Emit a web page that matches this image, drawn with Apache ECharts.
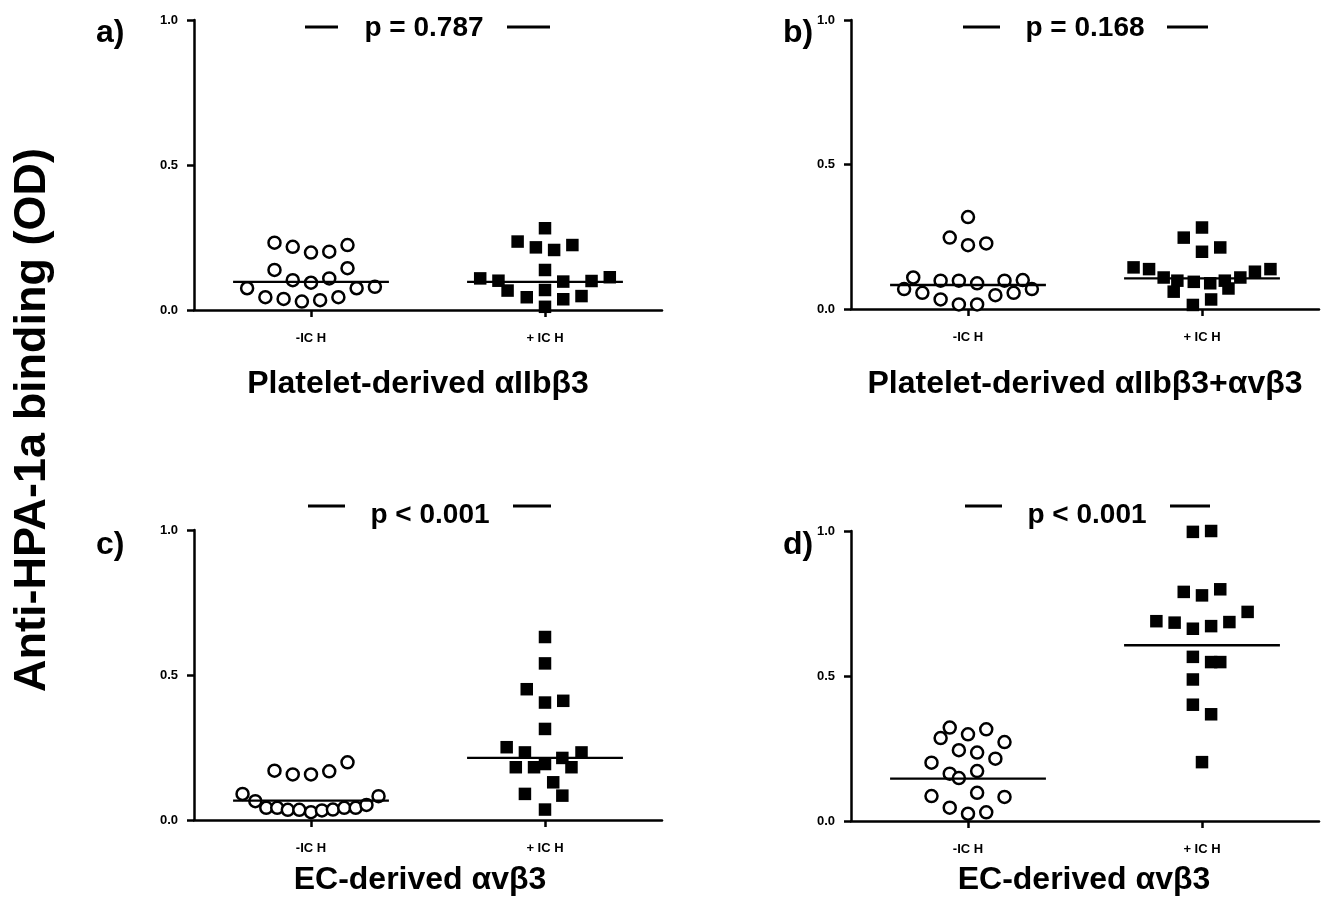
<!DOCTYPE html>
<html><head><meta charset="utf-8">
<script src="https://cdn.jsdelivr.net/npm/echarts@6/dist/echarts.min.js"></script>
<style>html,body{margin:0;padding:0;background:#fff}#c{width:1336px;height:910px}</style>
</head><body><div id="c"></div>
<script>
const categories = ['-IC H', '+ IC H'];
const yTickValues = [0, 0.5, 1.0];
const panelLabels = ['a)', 'b)', 'c)', 'd)'];
const panelTitles = ['Platelet-derived \u03b1IIb\u03b23', 'Platelet-derived \u03b1IIb\u03b23+\u03b1v\u03b23', 'EC-derived \u03b1v\u03b23', 'EC-derived \u03b1v\u03b23'];
const pValues = ['p = 0.787', 'p = 0.168', 'p < 0.001', 'p < 0.001'];
const yAxisTitle = 'Anti-HPA-1a binding (OD)';

// Panel a
const aNegValues = [0.232,0.218,0.198,0.201,0.224,0.138,0.144,0.103,0.094,0.109,0.075,0.075,0.080,0.044,0.038,0.029,0.034,0.044];
const aNegJitter = [-2,-1,0,1,2,-2,2,-1,0,1,-3.5,2.5,3.5,-2.5,-1.5,-0.5,0.5,1.5];
const aPosValues = [0.282,0.236,0.216,0.207,0.224,0.138,0.109,0.101,0.067,0.044,0.069,0.098,0.037,0.048,0.100,0.113,0.011];
const aPosJitter = [0,-1.5,-0.5,0.5,1.5,0,-3.55,-2.55,-2.05,-1,0,1,1,2,2.55,3.55,0];
const aMedians = [0.097, 0.097];
// Panel b
const bNegValues = [0.318,0.247,0.221,0.227,0.109,0.098,0.098,0.089,0.098,0.100,0.069,0.056,0.069,0.056,0.048,0.033,0.016,0.016];
const bNegJitter = [0,-1,0,1,-3,-1.5,-0.5,0.5,2,3,-3.5,-2.5,3.5,2.5,1.5,-1.5,-0.5,0.5];
const bPosValues = [0.282,0.247,0.198,0.213,0.144,0.138,0.109,0.098,0.094,0.089,0.098,0.109,0.129,0.138,0.060,0.071,0.014,0.033];
const bPosJitter = [0,-1,0,1,-3.75,-2.9,-2.1,-1.35,-0.45,0.45,1.25,2.1,2.9,3.75,-1.55,1.45,-0.5,0.5];
const bMedians = [0.083, 0.106];
// Panel c
const cNegValues = [0.170,0.157,0.157,0.168,0.199,0.090,0.082,0.065,0.042,0.042,0.035,0.035,0.027,0.033,0.036,0.042,0.042,0.052];
const cNegJitter = [-2,-1,0,1,2,-3.75,3.7,-3.05,-2.45,-1.85,-1.27,-0.64,0,0.6,1.2,1.82,2.45,3.04];
const cPosValues = [0.631,0.540,0.451,0.405,0.411,0.314,0.251,0.233,0.182,0.182,0.193,0.214,0.233,0.182,0.130,0.090,0.084,0.036];
const cPosJitter = [0,0,-1,0,1,0,-2.1,-1.1,-1.6,-0.6,0,0.95,2,1.45,0.45,-1.1,0.95,0];
const cMedians = [0.067, 0.214];
// Panel d
const dNegValues = [0.322,0.316,0.286,0.299,0.272,0.244,0.236,0.201,0.215,0.163,0.148,0.172,0.086,0.097,0.083,0.046,0.025,0.030];
const dNegJitter = [-1,1,-1.5,0,2,-0.5,0.5,-2,1.5,-1,-0.5,0.5,-2,0.5,2,-1,0,1];
const dPosValues = [0.997,1.0,0.790,0.778,0.799,0.721,0.689,0.684,0.663,0.672,0.686,0.566,0.548,0.548,0.488,0.401,0.368,0.203];
const dPosJitter = [-0.5,0.5,-1,0,1,2.5,-2.5,-1.5,-0.5,0.5,1.5,-0.5,0.5,1,-0.5,-0.5,0.5,0];
const dMedians = [0.146, 0.606];

const panels = [
  {neg:[aNegValues,aNegJitter], pos:[aPosValues,aPosJitter], med:aMedians},
  {neg:[bNegValues,bNegJitter], pos:[bPosValues,bPosJitter], med:bMedians},
  {neg:[cNegValues,cNegJitter], pos:[cPosValues,cPosJitter], med:cMedians},
  {neg:[dNegValues,dNegJitter], pos:[dPosValues,dPosJitter], med:dMedians}
];

const FONT = "'Liberation Sans', Arial, sans-serif";
const STEP = 0.078;      // jitter step in category units
const HALF = 0.333;      // half width of median bar
const grids = [
  {left:194, top:20, width:468, height:290},
  {left:851, top:20, width:468, height:289},
  {left:194, top:530, width:468, height:290},
  {left:851, top:531, width:468, height:290}
];

const xAxes = [], yAxes = [], series = [];
panels.forEach((p, i) => {
  xAxes.push({
    type:'value', gridIndex:i, min:0.5, max:2.5,
    axisLine:{show:true, onZero:false, lineStyle:{color:'#000', width:2.5}},
    axisTick:{show:true, customValues:[1,2], length:7, lineStyle:{color:'#000', width:2.5}},
    axisLabel:{show:true, customValues:[1,2], margin:22, color:'#000', fontFamily:FONT, fontWeight:'bold', fontSize:13,
      formatter:v => categories[Math.round(v)-1]},
    splitLine:{show:false}
  });
  yAxes.push({
    type:'value', gridIndex:i, min:0, max:1, interval:0.5,
    axisLine:{show:true, lineStyle:{color:'#000', width:2.5}},
    axisTick:{show:true, length:7, lineStyle:{color:'#000', width:2.5}},
    axisLabel:{margin:16, color:'#000', fontFamily:FONT, fontWeight:'bold', fontSize:13, formatter:v => v.toFixed(1)},
    splitLine:{show:false}
  });
  [[p.neg, 1, 'circle'], [p.pos, 2, 'rect']].forEach(([g, c, sym], k) => {
    series.push({
      type:'scatter', xAxisIndex:i, yAxisIndex:i, symbol:sym,
      symbolSize: sym === 'circle' ? 12 : 12.5, z:2, clip:false,
      itemStyle: sym === 'circle' ? {color:'#fff', borderColor:'#000', borderWidth:2.5, opacity:1} : {color:'#000', opacity:1},
      emphasis:{disabled:true},
      data: g[0].map((v, j) => [c + g[1][j]*STEP, v])
    });
    series.push({
      type:'line', xAxisIndex:i, yAxisIndex:i, symbol:'none', z:3, silent:true,
      lineStyle:{color:'#000', width:2.3},
      data:[[c-HALF, p.med[k]], [c+HALF, p.med[k]]]
    });
  });
});

const labelPos = [[96,33],[783,33],[96,545],[783,545]];
const pPos = [[424,28],[1085,28],[430,515],[1087,515]];
const dashes = [
  [[305,27],[338,27]],[[507,27],[550,27]],
  [[963,27],[1000,27]],[[1167,27],[1208,27]],
  [[308,506],[345,506]],[[513,506],[551,506]],
  [[965,506],[1002,506]],[[1170,506],[1210,506]]
];
const titlePos = [[418,384],[1085,384],[420,880],[1084,880]];

const graphic = [];
panelLabels.forEach((t, i) => graphic.push({type:'text', x:labelPos[i][0], y:labelPos[i][1],
  style:{text:t, font:`bold 32px ${FONT}`, fill:'#000', textVerticalAlign:'middle'}}));
pValues.forEach((t, i) => graphic.push({type:'text', x:pPos[i][0], y:pPos[i][1],
  style:{text:t, font:`bold 28px ${FONT}`, fill:'#000', textAlign:'center', textVerticalAlign:'middle'}}));
panelTitles.forEach((t, i) => graphic.push({type:'text', x:titlePos[i][0], y:titlePos[i][1],
  style:{text:t, font:`bold 32px ${FONT}`, fill:'#000', textAlign:'center', textVerticalAlign:'middle'}}));
dashes.forEach(d => graphic.push({type:'line', shape:{x1:d[0][0], y1:d[0][1], x2:d[1][0], y2:d[1][1]},
  style:{stroke:'#000', lineWidth:3}}));
graphic.push({type:'text', x:33, y:420, rotation:Math.PI/2,
  style:{text:yAxisTitle, font:`bold 45px ${FONT}`, fill:'#000', textAlign:'center', textVerticalAlign:'middle'}});

const chart = echarts.init(document.getElementById('c'), null, {renderer:'canvas'});
chart.setOption({
  animation:false,
  backgroundColor:'#fff',
  grid:grids,
  xAxis:xAxes,
  yAxis:yAxes,
  series:series,
  graphic:graphic
});
</script></body></html>
